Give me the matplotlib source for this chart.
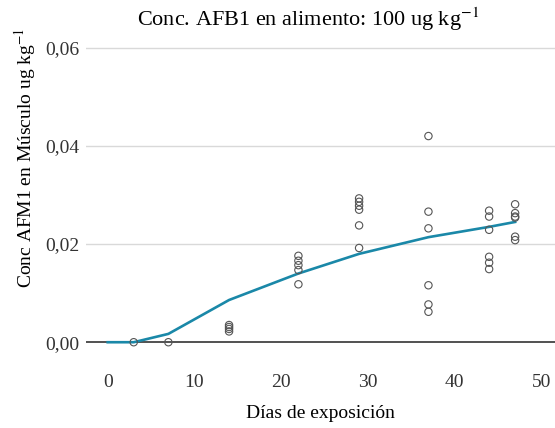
import matplotlib.pyplot as plt
from matplotlib.ticker import FuncFormatter

# Observaciones por día de exposición
dias = [3, 7, 14, 14, 14, 14,
        22, 22, 22, 22, 22,
        29, 29, 29, 29, 29, 29,
        37, 37, 37, 37, 37, 37,
        44, 44, 44, 44, 44, 44,
        47, 47, 47, 47, 47, 47]
conc = [0.0, 0.0, 0.0022, 0.0027, 0.0031, 0.0035,
        0.0176, 0.0166, 0.0157, 0.0147, 0.0118,
        0.0293, 0.0286, 0.0278, 0.0270, 0.0238, 0.0192,
        0.0420, 0.0266, 0.0232, 0.0116, 0.0077, 0.0062,
        0.0268, 0.0256, 0.0229, 0.0174, 0.0162, 0.0149,
        0.0281, 0.0263, 0.0256, 0.0254, 0.0215, 0.0208]

# Curva ajustada
dias_fit = [0, 3, 7, 14, 22, 29, 37, 44, 47]
conc_fit = [0.0, 0.0, 0.0017, 0.0086, 0.0140, 0.0180, 0.0214, 0.0235, 0.0245]

plt.rcParams['font.family'] = ['Liberation Serif', 'DejaVu Serif']
plt.rcParams['mathtext.fontset'] = 'stix'

fig = plt.figure(figsize=(5.55, 4.28), dpi=100)
ax = fig.add_axes([0.155, 0.166, 0.845, 0.757])

for y in [0.02, 0.04, 0.06]:
    ax.axhline(y, color='#d9d9d9', lw=1.0, zorder=0)
ax.axhline(0, color='#333333', lw=1.2, zorder=1)

ax.plot(dias_fit, conc_fit, color='#1a88a8', lw=1.9, zorder=2)
ax.scatter(dias, conc, s=28, facecolors='none', edgecolors='#555555',
           linewidths=0.8, zorder=3)

ax.set_xlim(-2.5, 51.6)
ax.set_ylim(-0.003, 0.063)
ax.set_xticks([0, 10, 20, 30, 40, 50])
ax.set_yticks([0.0, 0.02, 0.04, 0.06])
ax.yaxis.set_major_formatter(FuncFormatter(lambda v, p: f'{v:.2f}'.replace('.', ',')))

for s in ax.spines.values():
    s.set_visible(False)
ax.tick_params(length=0, labelsize=14, colors='#333333')
ax.tick_params(axis='x', pad=12)
ax.tick_params(axis='y', pad=5)

ax.set_xlabel('Días de exposición', fontsize=14, labelpad=10)
ax.set_ylabel('Conc AFM1 en Músculo ug kg$^{-1}$', fontsize=14)
ax.yaxis.set_label_coords(-0.102, 0.614)
ax.set_title('Conc. AFB1 en alimento: 100 ug kg$^{-1}$', fontsize=16, pad=5, x=0.473)

plt.savefig('out.png', dpi=100)
